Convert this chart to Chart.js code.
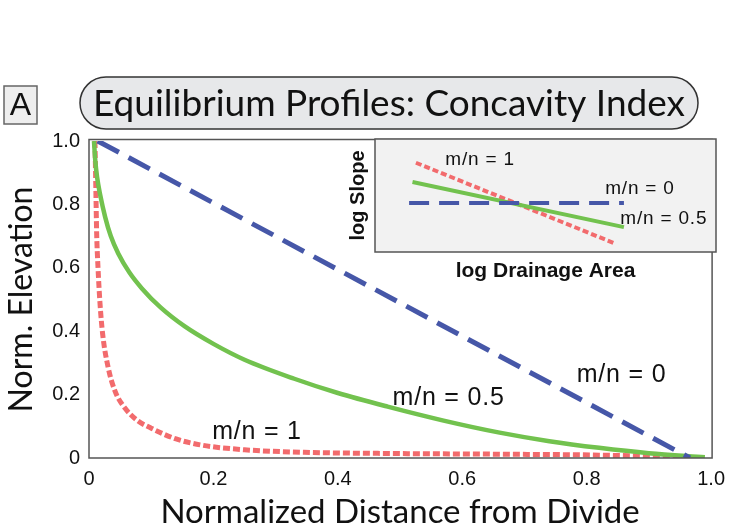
<!DOCTYPE html>
<html>
<head>
<meta charset="utf-8">
<script src="https://cdn.jsdelivr.net/npm/chart.js@4"></script>
<style>
  html, body { margin: 0; padding: 0; background: #fff; }
  #wrap { position: relative; width: 734px; height: 532px; }
  #profiles { position: absolute; left: 0; top: 0; }
  #inset { position: absolute; left: 340px; top: 130px; }
</style>
</head>
<body>
<div id="wrap">
  <canvas id="profiles" width="734" height="532"></canvas>
  <canvas id="inset" width="380" height="160"></canvas>
</div>
<script>
// equilibrium long profiles, normalized distance vs normalized elevation
const distZero = [0.014, 0.966];
const elevZero = [1.0, 0.0];

const distHalf = [0.008, 0.010, 0.013, 0.018, 0.026, 0.035, 0.047, 0.065, 0.085, 0.115, 0.154, 0.2, 0.25, 0.33, 0.4, 0.48, 0.57, 0.66, 0.74, 0.82, 0.9, 0.99];
const elevHalf = [1.0, 0.94, 0.886, 0.83, 0.76, 0.70, 0.645, 0.585, 0.535, 0.475, 0.415, 0.36, 0.31, 0.25, 0.205, 0.162, 0.118, 0.080, 0.053, 0.032, 0.015, 0.002];

const distOne = [0.0096, 0.011, 0.0123, 0.0145, 0.0176, 0.022, 0.031, 0.042, 0.058, 0.078, 0.10, 0.14, 0.18, 0.25, 0.346, 0.5, 0.66, 0.82, 0.92, 0.982];
const elevOne = [1.0, 0.85, 0.71, 0.6, 0.49, 0.39, 0.284, 0.21, 0.157, 0.118, 0.094, 0.06, 0.041, 0.026, 0.018, 0.014, 0.012, 0.009, 0.003, -0.01];

const xTicks = [0, 0.2, 0.4, 0.6, 0.8, 1.0];
const xTickLabels = ['0', '0.2', '0.4', '0.6', '0.8', '1.0'];
const yTicks = [0, 0.2, 0.4, 0.6, 0.8, 1.0];
const yTickLabels = ['0', '0.2', '0.4', '0.6', '0.8', '1.0'];

// inset: slope-area lines (arbitrary log units)
const logAreaZero = [1.0, 7.3];
const logSlopeZero = [4.34, 4.34];
const logAreaHalf = [1.1, 7.3];
const logSlopeHalf = [6.2, 2.2];
const logAreaOne = [1.2, 7.0];
const logSlopeOne = [7.9, 0.8];

const seriesNames = ['m/n = 0', 'm/n = 0.5', 'm/n = 1'];

const BLUE = '#4657a8';
const GREEN = '#72c24e';
const RED = '#f26b6d';

function pts(xs, ys) {
  return xs.map((x, i) => ({x: x, y: ys[i]}));
}

// where the curve names sit (data units of each chart)
const mainLabelAt = [[0.856, 0.263], [0.578, 0.19], [0.27, 0.082]];
const insetLabelAt = [[7.77, 5.58], [8.47, 2.92], [3.08, 8.14]];

function drawLabels(chart, spots, size, spacing) {
  const ctx = chart.ctx;
  const xs = chart.scales.x, ys = chart.scales.y;
  ctx.save();
  ctx.font = size + 'px "Liberation Sans", Arial, sans-serif';
  ctx.letterSpacing = spacing + 'px';
  ctx.fillStyle = '#111';
  ctx.textAlign = 'center';
  ctx.textBaseline = 'middle';
  seriesNames.forEach((name, i) => {
    ctx.fillText(name, xs.getPixelForValue(spots[i][0]), ys.getPixelForValue(spots[i][1]));
  });
  ctx.restore();
}

const decorPlugin = {
  id: 'decor',
  afterDraw(chart) {
    const ctx = chart.ctx;
    const a = chart.chartArea;
    ctx.save();
    // plot frame
    ctx.strokeStyle = '#555';
    ctx.lineWidth = 1.5;
    ctx.strokeRect(a.left, a.top - 1.5, a.right - a.left + 1, a.bottom - a.top + 1.5);

    // panel letter
    ctx.fillStyle = '#eeeeee';
    ctx.fillRect(4, 86, 33, 38);
    ctx.strokeStyle = '#666';
    ctx.lineWidth = 1.5;
    ctx.strokeRect(4, 86, 33, 38);
    ctx.fillStyle = '#111';
    ctx.font = '32px "Liberation Sans", Arial, sans-serif';
    ctx.textAlign = 'center';
    ctx.textBaseline = 'middle';
    ctx.fillText('A', 20.5, 106);

    // title pill
    const x0 = 80, x1 = 698, y0 = 77, y1 = 129, r = (y1 - y0) / 2;
    ctx.beginPath();
    ctx.moveTo(x0 + r, y0);
    ctx.lineTo(x1 - r, y0);
    ctx.arc(x1 - r, y0 + r, r, -Math.PI / 2, Math.PI / 2);
    ctx.lineTo(x0 + r, y1);
    ctx.arc(x0 + r, y0 + r, r, Math.PI / 2, Math.PI * 1.5);
    ctx.closePath();
    ctx.fillStyle = '#e7e8ea';
    ctx.fill();
    ctx.strokeStyle = '#333';
    ctx.lineWidth = 1.5;
    ctx.stroke();
    ctx.fillStyle = '#111';
    ctx.font = '37px Lato, "Open Sans", sans-serif';
    ctx.fillText('Equilibrium Profiles: Concavity Index', (x0 + x1) / 2, 104, 604);
    ctx.restore();

    drawLabels(chart, mainLabelAt, 25, 0.8);
  }
};

new Chart(document.getElementById('profiles'), {
  type: 'line',
  data: {
    datasets: [
      {label: seriesNames[0], data: pts(distZero, elevZero), borderColor: BLUE, borderWidth: 5, borderDash: [24, 11]},
      {label: seriesNames[1], data: pts(distHalf, elevHalf), borderColor: GREEN, borderWidth: 4.5, cubicInterpolationMode: 'monotone'},
      {label: seriesNames[2], data: pts(distOne, elevOne), borderColor: RED, borderWidth: 5, borderDash: [7, 3], cubicInterpolationMode: 'monotone'}
    ]
  },
  options: {
    responsive: false,
    animation: false,
    devicePixelRatio: 1,
    elements: {point: {radius: 0}, line: {fill: false}},
    layout: {padding: {top: 141, right: 18, bottom: 0, left: 0}},
    plugins: {legend: {display: false}, tooltip: {enabled: false}},
    scales: {
      x: {
        type: 'linear', min: 0, max: 1,
        afterFit: s => { s.height = 74; },
        afterBuildTicks: s => { s.ticks = xTicks.map(v => ({value: v})); },
        grid: {display: false, drawTicks: false},
        border: {display: false},
        ticks: {
          padding: 9, color: '#111', maxRotation: 0, autoSkip: false,
          font: {family: '"Liberation Sans", Arial, sans-serif', size: 20},
          callback: (v, i) => xTickLabels[i]
        },
        title: {
          display: true, text: 'Normalized Distance from Divide', color: '#111',
          font: {family: 'Lato, "Open Sans", sans-serif', size: 33}, padding: {top: 0, bottom: 0}
        }
      },
      y: {
        type: 'linear', min: 0, max: 1,
        afterFit: s => { s.width = 89; },
        afterBuildTicks: s => { s.ticks = yTicks.map(v => ({value: v})); },
        grid: {display: false, drawTicks: false},
        border: {display: false},
        ticks: {
          padding: 9, color: '#111', autoSkip: false,
          font: {family: '"Liberation Sans", Arial, sans-serif', size: 20},
          callback: (v, i) => yTickLabels[i]
        },
        title: {
          display: true, text: 'Norm. Elevation', color: '#111',
          font: {family: 'Lato, "Open Sans", sans-serif', size: 32}, padding: {top: 2, bottom: 0}
        }
      }
    }
  },
  plugins: [decorPlugin]
});

const insetPlugin = {
  id: 'insetBox',
  beforeDatasetsDraw(chart) {
    const ctx = chart.ctx;
    const a = chart.chartArea;
    ctx.save();
    ctx.fillStyle = '#f2f2f2';
    ctx.fillRect(a.left, a.top, a.right - a.left, a.bottom - a.top);
    ctx.strokeStyle = '#555';
    ctx.lineWidth = 1.5;
    ctx.strokeRect(a.left, a.top, a.right - a.left, a.bottom - a.top);
    ctx.restore();
  },
  afterDraw(chart) {
    drawLabels(chart, insetLabelAt, 19, 0.8);
  }
};

new Chart(document.getElementById('inset'), {
  type: 'line',
  data: {
    datasets: [
      {label: seriesNames[0], data: pts(logAreaZero, logSlopeZero), borderColor: BLUE, borderWidth: 4, borderDash: [20, 10]},
      {label: seriesNames[1], data: pts(logAreaHalf, logSlopeHalf), borderColor: GREEN, borderWidth: 4},
      {label: seriesNames[2], data: pts(logAreaOne, logSlopeOne), borderColor: RED, borderWidth: 4, borderDash: [6, 3]}
    ]
  },
  options: {
    responsive: false,
    animation: false,
    devicePixelRatio: 1,
    elements: {point: {radius: 0}, line: {fill: false}},
    layout: {padding: {top: 9, right: 4, bottom: 0, left: 0}},
    plugins: {legend: {display: false}, tooltip: {enabled: false}},
    scales: {
      x: {
        type: 'linear', min: 0, max: 10,
        afterFit: s => { s.height = 38; },
        grid: {display: false}, border: {display: false}, ticks: {display: false},
        title: {
          display: true, text: 'log Drainage Area', color: '#111',
          font: {family: '"Liberation Sans", Arial, sans-serif', size: 21, weight: 'bold'},
          padding: {top: 0, bottom: 6}
        }
      },
      y: {
        type: 'linear', min: 0, max: 10,
        afterFit: s => { s.width = 35; },
        grid: {display: false}, border: {display: false}, ticks: {display: false},
        title: {
          display: true, text: 'log Slope', color: '#111',
          font: {family: '"Liberation Sans", Arial, sans-serif', size: 20, weight: 'bold'},
          padding: {top: 6, bottom: 0}
        }
      }
    }
  },
  plugins: [insetPlugin]
});
</script>
</body>
</html>
